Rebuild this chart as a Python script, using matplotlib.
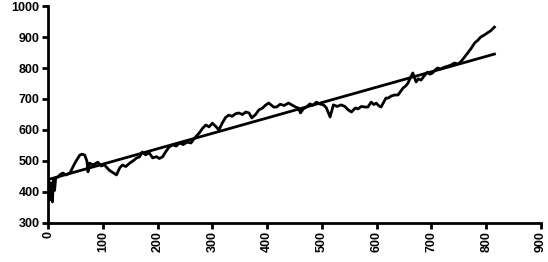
import numpy as np
import matplotlib.pyplot as plt

# noisy series
xs = [0, 2, 3, 4, 5, 6, 7, 8, 10, 12, 14, 18, 22, 27, 33, 40, 49, 58, 62, 67, 71,
      73, 76, 82, 91, 97, 103, 112, 125, 131, 136, 142, 149, 155, 162, 167, 172,
      178, 185, 191, 198, 203, 209, 215, 221, 228, 234, 240, 247, 254, 261, 268,
      276, 282, 288, 294, 300, 306, 312, 318, 324, 330, 336, 342, 348, 355, 361,
      367, 372, 379, 385, 391, 397, 403, 408, 412, 417, 424, 431, 439, 445, 452,
      457, 461, 466, 472, 478, 484, 490, 496, 503, 508, 512, 515, 521, 528, 535,
      542, 548, 554, 561, 566, 572, 579, 584, 590, 595, 599, 604, 608, 613, 617,
      621, 627, 633, 639, 644, 648, 653, 657, 662, 666, 669, 672, 676, 681, 687,
      693, 697, 702, 706, 711, 717, 724, 730, 736, 742, 748, 753, 759, 766, 772,
      779, 785, 790, 796, 802, 808, 815]
ys = [440, 400, 425, 375, 430, 380, 420, 368, 440, 405, 445, 448, 456, 461, 455,
      461, 493, 519, 522, 519, 500, 465, 493, 487, 496, 484, 487, 470, 455, 478,
      487, 482, 493, 500, 510, 513, 529, 520, 526, 510, 514, 508, 513, 530, 545,
      552, 548, 558, 553, 561, 558, 575, 590, 605, 616, 610, 622, 612, 600, 622,
      640, 648, 644, 652, 655, 650, 658, 655, 639, 650, 665, 670, 680, 687, 680,
      674, 674, 683, 679, 687, 681, 674, 671, 655, 668, 674, 684, 680, 690, 684,
      681, 672, 655, 642, 681, 676, 681, 676, 665, 658, 671, 668, 676, 674, 674,
      690, 682, 687, 678, 674, 690, 703, 703, 710, 713, 713, 725, 735, 742, 751,
      770, 784, 770, 755, 765, 761, 775, 787, 780, 784, 792, 800, 797, 803, 806,
      810, 816, 813, 819, 832, 848, 862, 881, 890, 900, 906, 913, 920, 932]

# straight trend line
trend_x = [0, 815]
trend_y = [440, 845]

xticks = list(range(0, 1000, 100))
yticks = list(range(300, 1100, 100))

fig = plt.figure(figsize=(5.48, 2.62), dpi=100)
ax = fig.add_axes([0.0876, 0.149, 0.8996, 0.828])

ax.plot(xs, ys, color='black', linewidth=2)
ax.plot(trend_x, trend_y, color='black', linewidth=2)

ax.set_xlim(0, 900)
ax.set_ylim(300, 1000)
ax.set_xticks(xticks)
ax.set_yticks(yticks)
ax.set_xticklabels([str(v) for v in xticks], rotation=90,
                   fontsize=9, fontweight='bold', family='Liberation Sans')
ax.set_yticklabels([str(v) for v in yticks],
                   fontsize=9, fontweight='bold', family='Liberation Sans')

for s in ['top', 'right']:
    ax.spines[s].set_visible(False)
for s in ['left', 'bottom']:
    ax.spines[s].set_linewidth(2)
ax.tick_params(width=2, length=4, pad=2)

fig.savefig('out.png', dpi=100)
